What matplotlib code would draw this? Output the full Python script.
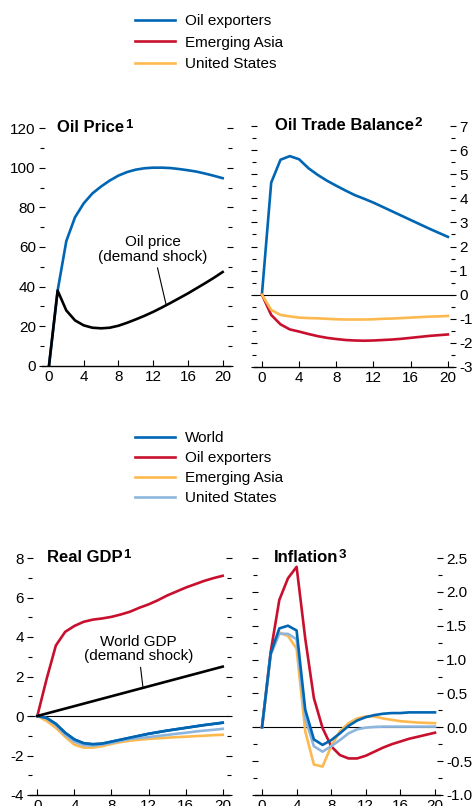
import matplotlib
matplotlib.use("Agg")
import matplotlib.pyplot as plt
from matplotlib.ticker import MultipleLocator, FormatStrFormatter

plt.rcParams['font.family'] = ['Liberation Sans Narrow', 'Liberation Sans', 'DejaVu Sans']
plt.rcParams['axes.unicode_minus'] = False

# quarters after shock
q = list(range(21))

# oil price
oil_supply = [0, 38, 63, 75, 82, 87, 90.5, 93.5, 96, 97.8, 99, 99.7, 100, 100, 99.8, 99.3, 98.7, 98, 97, 95.9, 94.7]
oil_demand = [0, 38, 28, 23, 20.5, 19.3, 19, 19.3, 20.3, 21.8, 23.5, 25.3, 27.3, 29.5, 31.8, 34.2, 36.6, 39.2, 41.8, 44.5, 47.4]

# oil trade balance
tb_exporters = [0, 4.65, 5.6, 5.75, 5.62, 5.25, 4.97, 4.73, 4.52, 4.32, 4.13, 3.98, 3.82, 3.64, 3.46, 3.28, 3.1, 2.92, 2.74, 2.57, 2.4]
tb_asia = [0, -0.84, -1.23, -1.44, -1.53, -1.63, -1.72, -1.79, -1.84, -1.88, -1.9, -1.91, -1.9, -1.88, -1.86, -1.83, -1.79, -1.75, -1.71, -1.68, -1.65]
tb_us = [0, -0.63, -0.84, -0.9, -0.95, -0.97, -0.98, -1.0, -1.02, -1.03, -1.03, -1.03, -1.02, -1.0, -0.99, -0.97, -0.95, -0.93, -0.91, -0.9, -0.88]

# real GDP
gdp_world = [0, -0.1, -0.4, -0.85, -1.19, -1.38, -1.43, -1.4, -1.3, -1.2, -1.1, -1.0, -0.9, -0.82, -0.74, -0.67, -0.6, -0.53, -0.46, -0.4, -0.34]
gdp_exporters = [0, 1.87, 3.57, 4.26, 4.56, 4.77, 4.88, 4.94, 5.02, 5.14, 5.28, 5.48, 5.65, 5.86, 6.1, 6.3, 6.5, 6.67, 6.84, 6.98, 7.1]
gdp_asia = [0, -0.25, -0.6, -1.05, -1.45, -1.6, -1.6, -1.53, -1.41, -1.32, -1.25, -1.2, -1.16, -1.13, -1.1, -1.07, -1.05, -1.02, -1.0, -0.97, -0.95]
gdp_us = [0, -0.12, -0.45, -0.95, -1.3, -1.48, -1.5, -1.44, -1.36, -1.25, -1.16, -1.11, -1.07, -1.01, -0.96, -0.9, -0.85, -0.79, -0.74, -0.7, -0.65]
gdp_demand = [0.125 * i for i in q]

# inflation
inf_world = [0, 1.09, 1.46, 1.5, 1.43, 0.26, -0.18, -0.26, -0.19, -0.09, 0.02, 0.1, 0.15, 0.18, 0.2, 0.21, 0.21, 0.22, 0.22, 0.22, 0.22]
inf_exporters = [0, 1.11, 1.88, 2.2, 2.37, 1.31, 0.43, -0.01, -0.28, -0.41, -0.46, -0.46, -0.42, -0.36, -0.3, -0.25, -0.21, -0.17, -0.14, -0.11, -0.08]
inf_asia = [0, 1.07, 1.4, 1.35, 1.16, -0.06, -0.55, -0.58, -0.28, -0.06, 0.06, 0.13, 0.16, 0.16, 0.13, 0.11, 0.09, 0.08, 0.07, 0.065, 0.06]
inf_us = [0, 1.07, 1.38, 1.38, 1.3, 0.13, -0.28, -0.36, -0.28, -0.19, -0.09, -0.03, -0.005, 0.005, 0.01, 0.01, 0.01, 0.01, 0.01, 0.01, 0.01]

BLUE = '#0066b3'
RED = '#c8102e'
YEL = '#fdb94f'
LBLUE = '#8db6df'
LW = 1.9
FS = 11

fig = plt.figure(figsize=(4.72, 8.06), dpi=100)
W, H = 472.0, 806.0


def make_ax(l, r, top, bot):
    return fig.add_axes([l / W, (H - bot) / H, (r - l) / W, (bot - top) / H])


def style(ax, xlim, ylim, major, minor, side, fmt=None):
    ax.set_xlim(*xlim)
    ax.set_ylim(*ylim)
    for s in ['top', 'left', 'right']:
        ax.spines[s].set_visible(False)
    ax.spines['bottom'].set_linewidth(1.0)
    ax.set_xticks([0, 4, 8, 12, 16, 20])
    ax.yaxis.set_major_locator(MultipleLocator(major))
    ax.yaxis.set_minor_locator(MultipleLocator(minor))
    if fmt:
        ax.yaxis.set_major_formatter(FormatStrFormatter(fmt))
    ax.tick_params(axis='x', direction='in', length=4, width=0.8, labelsize=FS, pad=3)
    ax.tick_params(axis='y', which='major', direction='inout', length=5, width=0.8,
                   left=True, right=True, labelsize=FS, pad=2)
    ax.tick_params(axis='y', which='minor', direction='inout', length=3, width=0.8,
                   left=True, right=True)
    if side == 'right':
        ax.tick_params(axis='y', labelleft=False, labelright=True)


def title(ax, x, txt, sup):
    t = ax.text(x, 1.0, txt, transform=ax.transAxes, fontsize=12, fontweight='bold',
                ha='left', va='center', clip_on=False)
    ax.annotate(sup, xy=(1.0, 1.0), xycoords=t, xytext=(0.5, 1), textcoords='offset points',
                fontsize=9.5, fontweight='bold', ha='left', va='top')


# --- Oil price
ax1 = make_ax(42, 229.6, 128, 366)
style(ax1, (-0.8, 20.8), (0, 120), 20, 10, 'left')
ax1.plot(q, oil_supply, color=BLUE, lw=LW, solid_joinstyle='round')
ax1.plot(q, oil_demand, color='black', lw=LW, solid_joinstyle='round')
ax1.annotate('Oil price\n(demand shock)', xy=(13.5, 30.7), xytext=(12, 58.8),
             ha='center', va='center', fontsize=FS, linespacing=1.05,
             arrowprops=dict(arrowstyle='-', lw=0.8, color='black', shrinkA=1, shrinkB=0))
title(ax1, 0.08, 'Oil Price', '1')

# --- Oil trade balance
ax2 = make_ax(254, 453, 126, 367)
style(ax2, (-0.85, 20.55), (-3, 7), 1, 0.5, 'right')
ax2.axhline(0, color='black', lw=0.8)
l_exp, = ax2.plot(q, tb_exporters, color=BLUE, lw=LW, solid_joinstyle='round')
l_asia, = ax2.plot(q, tb_asia, color=RED, lw=LW, solid_joinstyle='round')
l_us, = ax2.plot(q, tb_us, color=YEL, lw=LW, solid_joinstyle='round')
title(ax2, 0.105, 'Oil Trade Balance', '2')

# --- Real GDP
ax3 = make_ax(30, 229, 558, 795)
style(ax3, (-0.79, 20.68), (-4, 8), 2, 1, 'left')
ax3.axhline(0, color='black', lw=0.8)
g_world, = ax3.plot(q, gdp_world, color=BLUE, lw=LW)
g_exp, = ax3.plot(q, gdp_exporters, color=RED, lw=LW)
g_asia, = ax3.plot(q, gdp_asia, color=YEL, lw=LW)
g_us, = ax3.plot(q, gdp_us, color=LBLUE, lw=LW)
ax3.plot(q, gdp_world, color=BLUE, lw=LW)
ax3.plot(q, gdp_demand, color='black', lw=LW)
ax3.annotate('World GDP\n(demand shock)', xy=(11.4, 1.43), xytext=(10.9, 3.4),
             ha='center', va='center', fontsize=FS, linespacing=1.05,
             arrowprops=dict(arrowstyle='-', lw=0.8, color='black', shrinkA=1, shrinkB=0))
title(ax3, 0.085, 'Real GDP', '1')

# --- Inflation
ax4 = make_ax(255, 440, 558, 795)
style(ax4, (-0.81, 20.58), (-1, 2.5), 0.5, 0.25, 'right', '%.1f')
ax4.axhline(0, color='black', lw=0.8)
ax4.plot(q, inf_exporters, color=RED, lw=LW)
ax4.plot(q, inf_asia, color=YEL, lw=LW)
ax4.plot(q, inf_us, color=LBLUE, lw=LW)
ax4.plot(q, inf_world, color=BLUE, lw=LW)
title(ax4, 0.1, 'Inflation', '3')

# legends
leg_kw = dict(frameon=False, fontsize=FS, handlelength=2.6, handletextpad=0.65,
              borderpad=0, borderaxespad=0, loc='upper left')
fig.legend([l_exp, l_asia, l_us], ['Oil exporters', 'Emerging Asia', 'United States'],
           bbox_to_anchor=(135 / W, 1 - 14 / H), labelspacing=0.5, **leg_kw)
fig.legend([g_world, g_exp, g_asia, g_us],
           ['World', 'Oil exporters', 'Emerging Asia', 'United States'],
           bbox_to_anchor=(135 / W, 1 - 431 / H), labelspacing=0.4, **leg_kw)

fig.savefig('out.png', dpi=100)
